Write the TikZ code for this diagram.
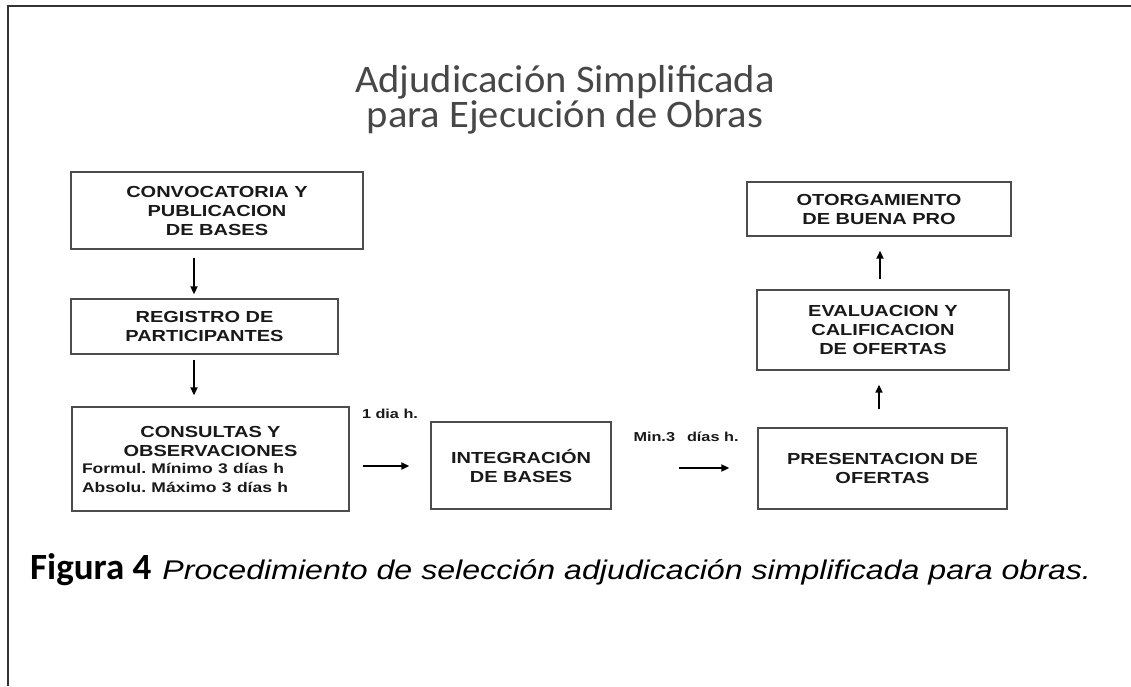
\documentclass[tikz,border=0pt]{standalone}
\usepackage{fontspec}
\usetikzlibrary{arrows.meta}
\newfontfamily\boxfont{Liberation Sans}[FakeStretch=1.25]
\newfontfamily\titlefont{Carlito}[FakeStretch=1.04]
\newfontfamily\capboldfont{Carlito}
\newfontfamily\capitfont{Liberation Sans}[FakeStretch=1.19]
\frenchspacing
\begin{document}
\begin{tikzpicture}[x=1pt,y=-1pt,
  stage/.style={draw=black!70, line width=1.4pt, inner sep=0pt, align=center,
    font=\boxfont\bfseries\fontsize{16}{19}\selectfont, text=black!90},
  arr/.style={-{Triangle[length=8pt,width=7pt]}, line width=1.9pt},
  lbl/.style={font=\boxfont\bfseries\fontsize{13}{15}\selectfont, inner sep=0pt, text=black!90},
  ttl/.style={font=\titlefont\fontsize{39}{41}\selectfont, text=black!72, inner sep=0pt, anchor=base}]
\useasboundingbox (0,0) rectangle (1131,686);
\draw[line width=1.5pt, black!80] (8,686) -- (8,6) -- (1131,6);

\node[ttl] (t1) at (565,92) {Adjudicación Simplificada};
\node[ttl] (t2) at (565,127.5) {para Ejecución de Obras};

\node[stage, minimum width=292pt, minimum height=77pt] (b1) at (217,210.5) {CONVOCATORIA Y\\PUBLICACION\\DE BASES};
\node[stage, minimum width=267pt, minimum height=55pt] (b2) at (204.5,326.5) {REGISTRO DE\\PARTICIPANTES};
\node[stage, minimum width=277pt, minimum height=104pt, text width=257pt, align=left] (b3) at (210.5,459)
  {\makebox[257pt]{CONSULTAS Y}\\\makebox[257pt]{OBSERVACIONES}\\[0pt]
   {\fontsize{14}{17}\selectfont Formul. Mínimo 3 días h\\Absolu. Máximo 3 días h}};
\node[stage, minimum width=180pt, minimum height=87pt] (b4) at (521,465.5) {INTEGRACIÓN\\DE BASES};
\node[stage, minimum width=249pt, minimum height=81pt] (b5) at (882.5,468.5) {PRESENTACION DE\\OFERTAS};
\node[stage, minimum width=252pt, minimum height=80pt] (b6) at (883,330) {EVALUACION Y\\CALIFICACION\\DE OFERTAS};
\node[stage, minimum width=264pt, minimum height=54pt] (b7) at (879,209) {OTORGAMIENTO\\DE BUENA PRO};

\coordinate (ax1) at (194,0);
\coordinate (ay3) at (0,466);
\coordinate (ay4) at (0,468);
\coordinate (ax5) at (879,0);
\coordinate (ax6) at (880,0);
\draw[arr, shorten <=8pt, shorten >=4pt] (b1.south -| ax1) -- (b2.north -| ax1);
\draw[arr, shorten <=5pt, shorten >=11pt] (b2.south -| ax1) -- (b3.north -| ax1);
\draw[arr, shorten <=13pt, shorten >=21pt] (b3.east |- ay3) -- (b4.west |- ay3);
\draw[arr, shorten <=67pt, shorten >=28pt] (b4.east |- ay4) -- (b5.west |- ay4);
\draw[arr, shorten <=18pt, shorten >=14pt] (b5.north -| ax5) -- (b6.south -| ax5);
\draw[arr, shorten <=10pt, shorten >=14pt] (b6.north -| ax6) -- (b7.south -| ax6);

\node[lbl] (l1) at (390,414) {1 dia h.};
\node[lbl] (l2) at (686,437) {Min.3\hspace{12pt}días h.};

\node[anchor=base west, inner sep=0pt] (cap) at (30,579)
  {{\capboldfont\bfseries\fontsize{37}{40}\selectfont Figura 4}\hspace{11pt}{\capitfont\itshape\fontsize{27}{30}\selectfont Procedimiento de selección adjudicación simplificada para obras.}};
\end{tikzpicture}
\end{document}
